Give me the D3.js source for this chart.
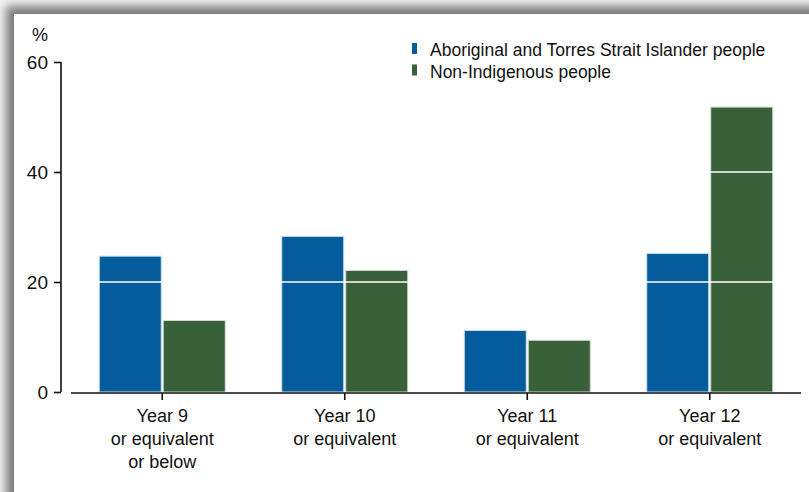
<!DOCTYPE html>
<html>
<head>
<meta charset="utf-8">
<script src="https://cdn.jsdelivr.net/npm/d3@7"></script>
<style>
body{margin:0;background:#fff;}
svg text{font-family:"Liberation Sans Narrow","Arial Narrow","Liberation Sans",sans-serif;fill:#111;}
</style>
</head>
<body>
<script>
// data
const categories = ["Year 9", "Year 10", "Year 11", "Year 12"];
const catLines = [
	["Year 9", "or equivalent", "or below"],
	["Year 10", "or equivalent"],
	["Year 11", "or equivalent"],
	["Year 12", "or equivalent"]
];
const seriesNames = ["Aboriginal and Torres Strait Islander people", "Non-Indigenous people"];
const indigenous = [24.7, 28.3, 11.2, 25.2];
const nonIndigenous = [13.0, 22.1, 9.4, 51.8];
const yTicks = [0, 20, 40, 60];

const W = 809, H = 492;
const colors = ["#035c9b", "#386139"];
const strokes = ["#cfe0ee", "#cfd9cf"];

let svg = d3.select("body").append("svg").attr("width", W).attr("height", H);

// drop shadow frame
let defs = svg.append("defs");
defs.append("filter").attr("id","blur").attr("x","-10%").attr("y","-10%").attr("width","120%").attr("height","120%")
	.append("feGaussianBlur").attr("stdDeviation", 5);
svg.append("rect").attr("width", W).attr("height", H).attr("fill", "#f2f2f2");
svg.append("rect").attr("x", 6).attr("y", 6).attr("width", W + 20).attr("height", H + 20)
	.attr("fill", "#7a7a7a").attr("filter", "url(#blur)");
svg.append("rect").attr("x", 14).attr("y", 14).attr("width", W).attr("height", H).attr("fill", "#fff");

x = d3.scaleBand().domain(categories).range([71, 801]);
y = d3.scaleLinear().domain([0, 60]).range([392, 62]);
let barW = 62;

let rows = categories.map((c, i) => ({cat: c, vals: [indigenous[i], nonIndigenous[i]]}));

let g = svg.append("g");
rows.forEach(function(r){
	r.vals.forEach(function(v, k){
		g.append("rect")
			.attr("x", x(r.cat) + x.bandwidth()/2 - barW - 1 + k*(barW + 2))
			.attr("y", y(v))
			.attr("width", barW)
			.attr("height", y(0) - y(v))
			.attr("fill", colors[k])
			.attr("stroke", strokes[k])
			.attr("stroke-width", 1);
	});
});

// white gridlines across the bars
svg.append("g").selectAll("line").data(yTicks.filter(t => t > 0 && t < 60)).join("line")
	.attr("x1", 72).attr("x2", 800)
	.attr("y1", d => y(d)).attr("y2", d => y(d))
	.attr("stroke", "#fff").attr("stroke-width", 1.6);

// y axis
let ya = svg.append("g").attr("transform", "translate(61,0)")
	.call(d3.axisLeft(y).tickValues(yTicks).tickSize(7).tickPadding(6));
ya.select(".domain").attr("stroke", "#111").attr("stroke-width", 1.6).attr("d", "M0," + y(60) + "V" + y(0));
ya.selectAll(".tick line").attr("stroke", "#111").attr("stroke-width", 1.6);
ya.selectAll(".tick text").attr("font-size", 19).attr("fill", "#111")
	.attr("font-family", "'Liberation Sans Narrow','Arial Narrow',sans-serif");

svg.append("text").attr("x", 40).attr("y", 41).attr("text-anchor", "middle")
	.attr("font-size", 18).text("%");

// x axis
let xa = svg.append("g").attr("transform", "translate(0," + (y(0) + 1) + ")")
	.call(d3.axisBottom(x).tickSize(7).tickFormat(""));
xa.select(".domain").attr("stroke", "#111").attr("stroke-width", 1.6).attr("d", "M71,0H801");
xa.selectAll(".tick line").attr("stroke", "#111").attr("stroke-width", 1.6);

categories.forEach(function(c, i){
	let t = svg.append("text").attr("text-anchor", "middle")
		.attr("x", x(c) + x.bandwidth()/2).attr("y", 422).attr("font-size", 18);
	catLines[i].forEach(function(l, j){
		t.append("tspan").attr("x", x(c) + x.bandwidth()/2).attr("dy", j ? 23 : 0).text(l);
	});
});

// legend
seriesNames.forEach(function(s, k){
	svg.append("rect").attr("x", 412).attr("y", 43 + k*21.5).attr("width", 5).attr("height", 11).attr("fill", colors[k]);
	svg.append("text").attr("x", 430).attr("y", 56 + k*21.5).attr("font-size", 17.5).text(s);
});
</script>
</body>
</html>
